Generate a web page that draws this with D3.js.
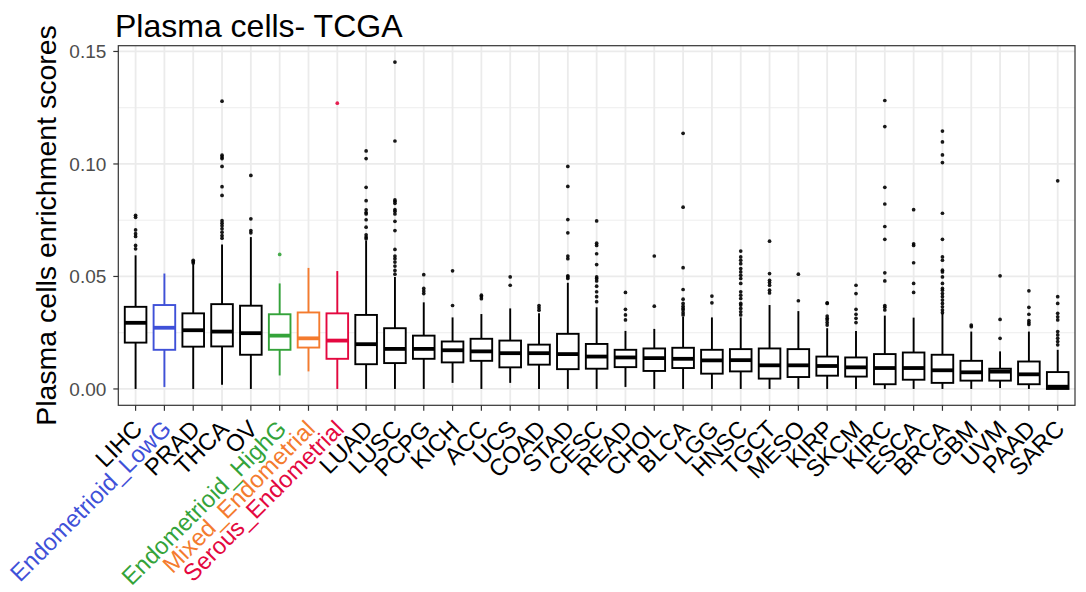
<!DOCTYPE html>
<html><head><meta charset="utf-8">
<script src="https://cdn.jsdelivr.net/npm/d3@7"></script>
<style>
html,body{margin:0;padding:0;background:#fff;}
svg{display:block;font-family:"Liberation Sans",Arial,Helvetica,sans-serif;}
</style></head>
<body>
<svg id="chart" width="1086" height="592"></svg>
<script>
const categories = ["LIHC","Endometrioid_LowG","PRAD","THCA","OV","Endometrioid_HighG","Mixed_Endometrial","Serous_Endometrial","LUAD","LUSC","PCPG","KICH","ACC","UCS","COAD","STAD","CESC","READ","CHOL","BLCA","LGG","HNSC","TGCT","MESO","KIRP","SKCM","KIRC","ESCA","BRCA","GBM","UVM","PAAD","SARC"];
const whiskerLow  = [0,0.0009,0,0.0019,0,0.006,0.0078,0,0,0,0,0.0027,0,0.0027,0,0,0,0.0009,0,0,0,0,0,0,0,0,0,0,0,0,0.0004,0,0];
const q1          = [0.0206,0.0174,0.0188,0.0189,0.0152,0.0174,0.0184,0.0134,0.011,0.0115,0.0134,0.0118,0.0125,0.0096,0.0108,0.0088,0.009,0.0097,0.008,0.0093,0.0068,0.0078,0.0046,0.0053,0.0059,0.0055,0.0021,0.0041,0.0027,0.0037,0.0037,0.0021,0];
const median      = [0.0294,0.0272,0.0261,0.0255,0.0248,0.0237,0.0225,0.0215,0.0199,0.0178,0.0178,0.0172,0.0167,0.0159,0.0159,0.0155,0.0144,0.014,0.0137,0.0134,0.0127,0.0128,0.0105,0.0105,0.0102,0.0096,0.0093,0.0093,0.0083,0.0074,0.0077,0.0065,0.001];
const q3          = [0.0365,0.0373,0.0336,0.0377,0.037,0.0332,0.034,0.0336,0.0329,0.027,0.0237,0.0211,0.0223,0.0215,0.0197,0.0245,0.02,0.0174,0.018,0.0183,0.0174,0.0177,0.018,0.0177,0.0144,0.014,0.0155,0.0162,0.0152,0.0125,0.009,0.0122,0.0075];
const whiskerHigh = [0.0594,0.0513,0.0555,0.0642,0.0675,0.0469,0.0538,0.0524,0.066,0.0498,0.0385,0.0318,0.0333,0.0358,0.0336,0.0472,0.0363,0.0258,0.0267,0.0321,0.0318,0.0318,0.0373,0.0346,0.027,0.0258,0.0326,0.0317,0.0336,0.0255,0.0167,0.0255,0.0174];
const outliers = [
 [0.0772,0.0763,0.0707,0.069,0.0678,0.0638,0.0623],
 [],
 [0.0572,0.0565,0.056],
 [0.1279,0.1039,0.1031,0.1024,0.0989,0.0899,0.086,0.0748,0.0737,0.0725,0.0712,0.0697,0.0682,0.067],
 [0.0949,0.0756,0.0704,0.0694],
 [0.0598],
 [],
 [0.127],
 [0.1058,0.1024,0.0896,0.0837,0.0796,0.0784,0.0778,0.0752,0.0719,0.0685,0.0675,0.0668],
 [0.1453,0.1102,0.084,0.0834,0.0825,0.0797,0.079,0.0778,0.0745,0.0704,0.062,0.0591,0.0579,0.0564,0.0546,0.0527,0.051],
 [0.0508,0.0447,0.0435,0.0424],
 [0.0525,0.0371],
 [0.0417,0.041,0.0401],
 [0.0498,0.0461],
 [0.0371,0.0361,0.035],
 [0.0989,0.09,0.0753,0.0694,0.0591,0.0579,0.0503,0.0498,0.0491],
 [0.0747,0.0648,0.0638,0.0601,0.0553,0.0498,0.0491,0.048,0.0457,0.0432,0.041,0.0388],
 [0.0429,0.0354,0.0329,0.0307],
 [0.0591,0.0368],
 [0.1136,0.0808,0.0539,0.0442,0.0399,0.038,0.0368,0.0358,0.0351,0.0339,0.0329],
 [0.0413,0.0383],
 [0.0613,0.0587,0.0572,0.0557,0.0535,0.052,0.0505,0.0491,0.0469,0.0432,0.0417,0.0402,0.038,0.0373,0.0358,0.0343,0.0329],
 [0.0657,0.0513,0.0483,0.0473,0.0461,0.0439,0.0427],
 [0.051,0.0392],
 [0.0383,0.038,0.0324,0.0314,0.0307,0.0295,0.0284],
 [0.0461,0.0424,0.0354,0.0332,0.0314,0.0295],
 [0.1282,0.1166,0.0896,0.0822,0.0722,0.0665,0.0516,0.048,0.0371,0.0363,0.0351],
 [0.0797,0.0645,0.0638,0.0561,0.0469,0.0429],
 [0.1146,0.1098,0.104,0.1006,0.0781,0.0665,0.0587,0.0572,0.0528,0.052,0.0498,0.0469,0.0447,0.0439,0.0424,0.041,0.0395,0.038,0.0365,0.0351,0.0339],
 [0.0284,0.0277],
 [0.0503,0.0309,0.0225],
 [0.0436,0.0363,0.0332,0.0304,0.0295,0.0287],
 [0.0925,0.041,0.038,0.0336,0.0321,0.0307,0.0255,0.024,0.0225,0.0211,0.0196]
];
const highlightColors = {
  "Endometrioid_LowG": "#3F51D8",
  "Endometrioid_HighG": "#34A33A",
  "Mixed_Endometrial": "#F47B2E",
  "Serous_Endometrial": "#E4083F"
};
const yTicks = [0, 0.05, 0.10, 0.15];
const yMinorTicks = [0.025, 0.075, 0.125];
const titleText = "Plasma cells- TCGA";
const yLabel = "Plasma cells enrichment scores";

(function draw() {
const svg = d3.select("#chart");
const pL = 118.3, pR = 1075, pT = 45.7, pB = 405.3;

const x = d3.scalePoint().domain(categories).range([pL, pR]).padding(0.6);
const step = x.step();
const boxW = step * 0.75;

const allVals = whiskerLow.concat(whiskerHigh, outliers.flat());
const dMin = d3.min(allVals), dMax = d3.max(allVals);
const pad = (dMax - dMin) * 0.05;
const y = d3.scaleLinear().domain([dMin - pad, dMax + pad]).range([pB, pT]);

const colorOf = c => highlightColors[c] || "#000000";

svg.append("rect").attr("x", pL).attr("y", pT).attr("width", pR-pL).attr("height", pB-pT).attr("fill", "#fff");
const grid = svg.append("g");
grid.selectAll(".ymin").data(yMinorTicks).enter().append("line")
  .attr("x1", pL).attr("x2", pR).attr("y1", d=>y(d)).attr("y2", d=>y(d))
  .attr("stroke", "#EBEBEB").attr("stroke-width", 0.9);
grid.selectAll(".ymaj").data(yTicks).enter().append("line")
  .attr("x1", pL).attr("x2", pR).attr("y1", d=>y(d)).attr("y2", d=>y(d))
  .attr("stroke", "#EBEBEB").attr("stroke-width", 1.8);
grid.selectAll(".xmaj").data(categories).enter().append("line")
  .attr("x1", d=>x(d)).attr("x2", d=>x(d)).attr("y1", pT).attr("y2", pB)
  .attr("stroke", "#EBEBEB").attr("stroke-width", 1.8);

const g = svg.append("g");
categories.forEach((c, i) => {
  const cx = x(c), col = colorOf(c);
  const bg = g.append("g");
  bg.append("line").attr("x1", cx).attr("x2", cx).attr("y1", y(q3[i])).attr("y2", y(whiskerHigh[i]))
    .attr("stroke", col).attr("stroke-width", 1.9);
  bg.append("line").attr("x1", cx).attr("x2", cx).attr("y1", y(q1[i])).attr("y2", y(whiskerLow[i]))
    .attr("stroke", col).attr("stroke-width", 1.9);
  bg.append("rect").attr("x", cx - boxW/2).attr("width", boxW)
    .attr("y", y(q3[i])).attr("height", y(q1[i]) - y(q3[i]))
    .attr("fill", "#fff").attr("stroke", col).attr("stroke-width", 1.9);
  bg.append("line").attr("x1", cx - boxW/2).attr("x2", cx + boxW/2).attr("y1", y(median[i])).attr("y2", y(median[i]))
    .attr("stroke", col).attr("stroke-width", 3.8);
  bg.selectAll("circle").data(outliers[i]).enter().append("circle")
    .attr("cx", cx).attr("cy", d => y(d)).attr("r", 1.85).attr("fill", col).attr("fill-opacity", 0.9);
});

svg.append("rect").attr("x", pL).attr("y", pT).attr("width", pR-pL).attr("height", pB-pT)
  .attr("fill", "none").attr("stroke", "#333333").attr("stroke-width", 1.2);

const ya = svg.append("g");
ya.selectAll("line").data(yTicks).enter().append("line")
  .attr("x1", pL - 5).attr("x2", pL).attr("y1", d=>y(d)).attr("y2", d=>y(d))
  .attr("stroke", "#333").attr("stroke-width", 1.2);
ya.selectAll("text").data(yTicks).enter().append("text")
  .attr("x", pL - 12).attr("y", d=>y(d)).attr("dy", "0.35em")
  .attr("text-anchor", "end").attr("font-size", 19).attr("fill", "#4D4D4D")
  .text(d => d3.format(".2f")(d));

const xa = svg.append("g");
xa.selectAll("line").data(categories).enter().append("line")
  .attr("x1", d=>x(d)).attr("x2", d=>x(d)).attr("y1", pB).attr("y2", pB + 5.5)
  .attr("stroke", "#333").attr("stroke-width", 1.2);
xa.selectAll("text").data(categories).enter().append("text")
  .attr("transform", d => `translate(${x(d) - 4},${pB + 13}) rotate(-45)`)
  .attr("text-anchor", "end").attr("dy", "0.72em")
  .attr("font-size", 23.8).attr("fill", d => colorOf(d))
  .text(d => d);

svg.append("text").attr("x", 115).attr("y", 37).attr("font-size", 32).attr("fill", "#000").text(titleText);

svg.append("text").attr("transform", `translate(56,${(pT+pB)/2}) rotate(-90)`)
  .attr("text-anchor", "middle").attr("font-size", 28.5).attr("fill", "#000").text(yLabel);
})();
</script>
</body></html>
